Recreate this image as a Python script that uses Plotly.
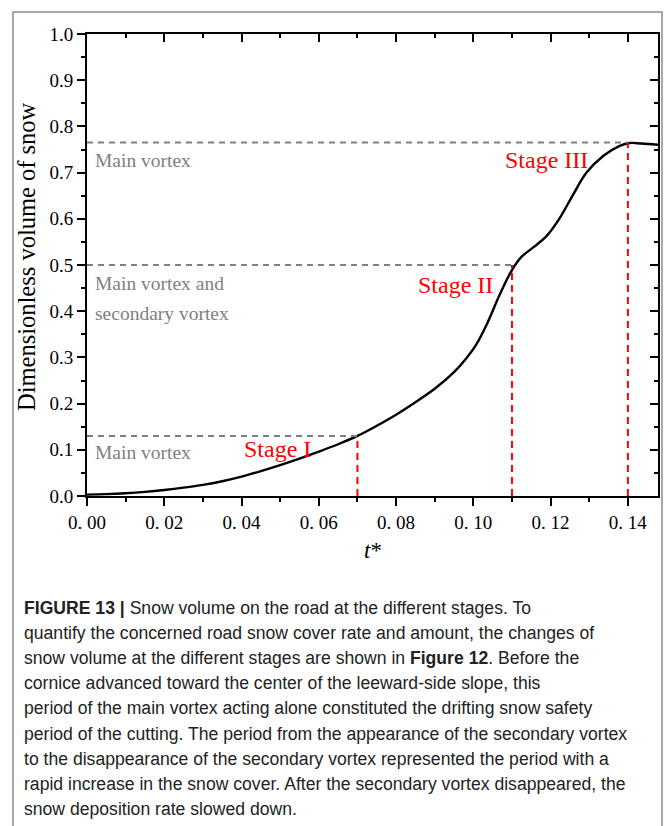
import plotly.graph_objects as go

# Dimensionless snow volume on the road versus dimensionless time t*
t_star = [0.0, 0.005, 0.01, 0.015, 0.02, 0.025, 0.03, 0.035, 0.04, 0.045, 0.05,
          0.055, 0.06, 0.065, 0.07, 0.075, 0.08, 0.085, 0.09, 0.095, 0.0982,
          0.1007, 0.1034, 0.1069, 0.11, 0.1125, 0.1155, 0.119, 0.1224, 0.1258,
          0.1293, 0.1336, 0.1379, 0.1405, 0.1435, 0.148]
snow_volume = [0.003, 0.004, 0.006, 0.009, 0.013, 0.018, 0.024, 0.032, 0.042,
               0.054, 0.067, 0.081, 0.096, 0.112, 0.130, 0.152, 0.176, 0.203,
               0.232, 0.268, 0.298, 0.327, 0.370, 0.437, 0.489, 0.518, 0.538,
               0.563, 0.602, 0.652, 0.700, 0.736, 0.758, 0.764, 0.763, 0.760]

# Stage boundaries: end time of each stage and the snow volume level reached
stage_t = [0.07, 0.11, 0.14]
stage_level = [0.13, 0.5, 0.765]
stage_names = ["Stage I", "Stage II", "Stage III"]
stage_label_t = [0.0494, 0.0955, 0.119]
stage_label_v = [0.102, 0.457, 0.727]

# Flow regime notes (grey) placed along the left edge
regime_text = ["Main vortex", "Main vortex and", "secondary vortex", "Main vortex"]
regime_v = [0.727, 0.461, 0.396, 0.095]
regime_t = 0.0016

x_tick_vals = [0.0, 0.02, 0.04, 0.06, 0.08, 0.10, 0.12, 0.14]
x_tick_labels = ["0. 00", "0. 02", "0. 04", "0. 06", "0. 08", "0. 10", "0. 12", "0. 14"]
y_tick_vals = [0.0, 0.1, 0.2, 0.3, 0.4, 0.5, 0.6, 0.7, 0.8, 0.9, 1.0]
y_tick_labels = ["0.0", "0.1", "0.2", "0.3", "0.4", "0.5", "0.6", "0.7", "0.8", "0.9", "1.0"]

caption_lines = [
    "<b>FIGURE 13 |</b> Snow volume on the road at the different stages. To",
    "quantify the concerned road snow cover rate and amount, the changes of",
    "snow volume at the different stages are shown in <b>Figure 12</b>. Before the",
    "cornice advanced toward the center of the leeward-side slope, this",
    "period of the main vortex acting alone constituted the drifting snow safety",
    "period of the cutting. The period from the appearance of the secondary vortex",
    "to the disappearance of the secondary vortex represented the period with a",
    "rapid increase in the snow cover. After the secondary vortex disappeared, the",
    "snow deposition rate slowed down.",
]

W, H = 665, 826
ML, MR, MT, MB = 87, 7, 34, 330
PW, PH = W - ML - MR, H - MT - MB
X_RANGE = [0, 0.1478]
Y_RANGE = [0, 1.0]


def px_x(px):
    return (px - ML) / PW


def px_y(py):
    return (H - MB - py) / PH


SERIF = "Liberation Serif, Times New Roman, serif"
SANS = "Liberation Sans, Arial, sans-serif"

fig = go.Figure()

fig.add_trace(go.Scatter(
    x=t_star, y=snow_volume, mode="lines",
    line=dict(color="black", width=2.4, shape="spline", smoothing=1.0),
    hoverinfo="skip", showlegend=False,
))
# invisible trace that anchors the mirrored top/right axes
fig.add_trace(go.Scatter(x=X_RANGE, y=Y_RANGE, xaxis="x2", yaxis="y2",
                         mode="markers", marker=dict(opacity=0),
                         hoverinfo="skip", showlegend=False))

shapes = []
for st, lv in zip(stage_t, stage_level):
    shapes.append(dict(type="line", xref="x", yref="y", x0=0, x1=st, y0=lv, y1=lv,
                       line=dict(color="#808080", width=2, dash="6px,5px")))
    shapes.append(dict(type="line", xref="x", yref="y", x0=st, x1=st, y0=0, y1=lv,
                       line=dict(color="#ff0000", width=2, dash="7px,5px")))

# outer frame of the figure panel
shapes.append(dict(type="rect", xref="paper", yref="paper",
                   x0=px_x(13), x1=px_x(662), y0=px_y(830), y1=px_y(12),
                   line=dict(color="#a8a8a8", width=2), fillcolor="rgba(0,0,0,0)",
                   layer="below"))

annotations = []
for name, tx, vy in zip(stage_names, stage_label_t, stage_label_v):
    annotations.append(dict(x=tx, y=vy, xref="x", yref="y", text=name,
                            showarrow=False, xanchor="center", yanchor="middle",
                            font=dict(family=SERIF, size=24, color="#ff0000")))
for txt, vy in zip(regime_text, regime_v):
    annotations.append(dict(x=regime_t, y=vy, xref="x", yref="y", text=txt,
                            showarrow=False, xanchor="left", yanchor="middle",
                            font=dict(family=SERIF, size=19.5, color="#808080")))

annotations.append(dict(x=px_x(373), y=px_y(550), xref="paper", yref="paper",
                        text="<i>t</i>*", showarrow=False, xanchor="center",
                        yanchor="middle", font=dict(family=SERIF, size=23, color="black")))
annotations.append(dict(x=px_x(26), y=px_y(257), xref="paper", yref="paper",
                        text="Dimensionless volume of snow", showarrow=False,
                        textangle=-90, xanchor="center", yanchor="middle",
                        font=dict(family=SERIF, size=24.5, color="black")))

cap_y0 = 608
cap_step = 25.1
for i, line in enumerate(caption_lines):
    annotations.append(dict(x=px_x(22), y=px_y(cap_y0 + i * cap_step),
                            xref="paper", yref="paper", text=line, showarrow=False,
                            xanchor="left", yanchor="middle", align="left",
                            font=dict(family=SANS, size=17.6, color="#222222")))

fig.update_layout(
    width=W, height=H,
    margin=dict(l=ML, r=MR, t=MT, b=MB, autoexpand=False),
    paper_bgcolor="white", plot_bgcolor="white",
    shapes=shapes, annotations=annotations,
    xaxis=dict(range=X_RANGE, tickvals=x_tick_vals, ticktext=x_tick_labels,
               ticks="outside", ticklen=8, tickwidth=2, tickcolor="black",
               minor=dict(dtick=0.01, tick0=0, ticks="outside", ticklen=4,
                          tickwidth=2, tickcolor="black"),
               showline=True, linewidth=2, linecolor="black", showgrid=False,
               zeroline=False, tickfont=dict(family=SERIF, size=19, color="black")),
    yaxis=dict(range=Y_RANGE, tickvals=y_tick_vals, ticktext=y_tick_labels,
               ticks="outside", ticklen=8, tickwidth=2, tickcolor="black",
               minor=dict(dtick=0.05, tick0=0, ticks="outside", ticklen=4,
                          tickwidth=2, tickcolor="black"),
               showline=True, linewidth=2, linecolor="black", showgrid=False,
               zeroline=False, tickfont=dict(family=SERIF, size=19, color="black")),
    xaxis2=dict(range=X_RANGE, overlaying="x", side="top", anchor="y2",
                tickvals=x_tick_vals, showticklabels=False,
                ticks="inside", ticklen=8, tickwidth=2, tickcolor="black",
                minor=dict(dtick=0.01, tick0=0, ticks="inside", ticklen=4,
                           tickwidth=2, tickcolor="black"),
                showline=True, linewidth=2, linecolor="black", showgrid=False,
                zeroline=False),
    yaxis2=dict(range=Y_RANGE, overlaying="y", side="right", anchor="x2",
                tickvals=y_tick_vals, showticklabels=False,
                ticks="inside", ticklen=8, tickwidth=2, tickcolor="black",
                minor=dict(dtick=0.05, tick0=0, ticks="inside", ticklen=4,
                           tickwidth=2, tickcolor="black"),
                showline=True, linewidth=2, linecolor="black", showgrid=False,
                zeroline=False),
)

fig.write_html("out.html")
